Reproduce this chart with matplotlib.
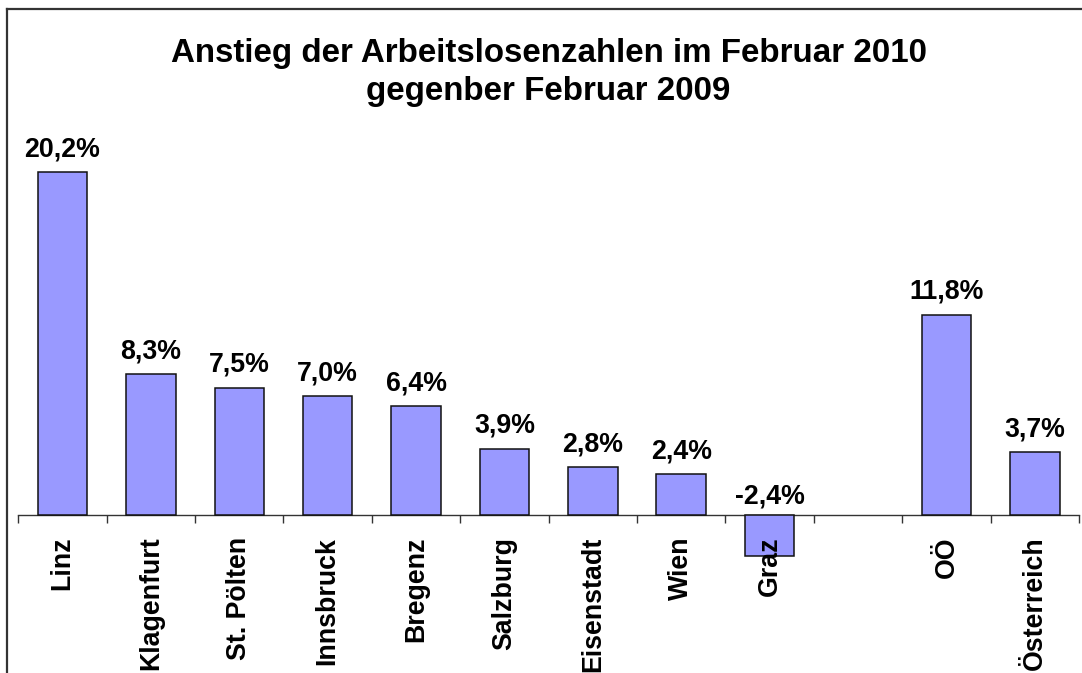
import matplotlib
matplotlib.use("Agg")
import matplotlib.pyplot as plt
from matplotlib.lines import Line2D

plt.rcParams['font.family'] = ['Liberation Sans', 'DejaVu Sans']

categories = ["Linz", "Klagenfurt", "St. Pölten", "Innsbruck", "Bregenz",
              "Salzburg", "Eisenstadt", "Wien", "Graz", "", "OÖ", "Österreich"]
values = [20.2, 8.3, 7.5, 7.0, 6.4, 3.9, 2.8, 2.4, -2.4, None, 11.8, 3.7]
title_line1 = "Anstieg der Arbeitslosenzahlen im Februar 2010"
title_line2 = "gegenber Februar 2009"

W, H = 1082, 673
DPI = 100
fig = plt.figure(figsize=(W / DPI, H / DPI), dpi=DPI)
fig.patch.set_facecolor("white")

# axes geometry in pixels
x0_px, x1_px = 18.3, 1079.0
zero_px = 515.0           # from top
px_per_unit = 16.98
ymin = -(H - zero_px) / px_per_unit
ymax = zero_px / px_per_unit

ax = fig.add_axes([x0_px / W, 0, (x1_px - x0_px) / W, 1])
ax.set_facecolor("none")
ax.set_xlim(-0.5, len(categories) - 0.5)
ax.set_ylim(ymin, ymax)
ax.set_axisbelow(False)

xs = [i for i, v in enumerate(values) if v is not None]
vs = [v for v in values if v is not None]
ax.bar(xs, vs, width=0.56, color="#9999FF", edgecolor="#111111", linewidth=1.1, zorder=2)

for x, v in zip(xs, vs):
    label = f"{v:.1f}%".replace(".", ",")
    base = max(v, 0)
    off = 11.5 if v >= 0 else 8.5
    ax.annotate(label, xy=(x, base), xytext=(0, off), textcoords="offset points",
                ha="center", va="baseline", fontsize=19.3, fontweight="bold", color="black")

for s in ["left", "right", "top"]:
    ax.spines[s].set_visible(False)
ax.spines["bottom"].set_position(("data", 0))
ax.spines["bottom"].set_color("#333333")
ax.spines["bottom"].set_linewidth(1.0)
ax.spines["bottom"].set_zorder(1)

ax.set_yticks([])
ax.set_xticks([i - 0.5 for i in range(len(categories) + 1)])
ax.set_xticklabels([])
ax.tick_params(axis="x", which="major", direction="out", length=5.8, width=1.0, color="#333333")
ax.set_xticks(range(len(categories)), minor=True)
ax.set_xticklabels(categories, minor=True, rotation=90, fontsize=19.3, fontweight="bold",
                   va="top", ha="center")
ax.tick_params(axis="x", which="minor", length=0, pad=15.6)

# title
cx = (x0_px + x1_px) / 2 / W
fig.text(cx, 1 - 62 / H, title_line1, ha="center", va="baseline", fontsize=23.9, fontweight="bold")
fig.text(cx, 1 - 100 / H, title_line2, ha="center", va="baseline", fontsize=23.9, fontweight="bold")

# border of the chart area
fig.add_artist(Line2D([7.3 / W, 7.3 / W], [0, 1 - 8.5 / H], transform=fig.transFigure,
                      color="#333333", linewidth=1.6))
fig.add_artist(Line2D([7.3 / W, 1], [1 - 8.5 / H, 1 - 8.5 / H], transform=fig.transFigure,
                      color="#333333", linewidth=1.6))

fig.savefig("out.png", dpi=DPI)
